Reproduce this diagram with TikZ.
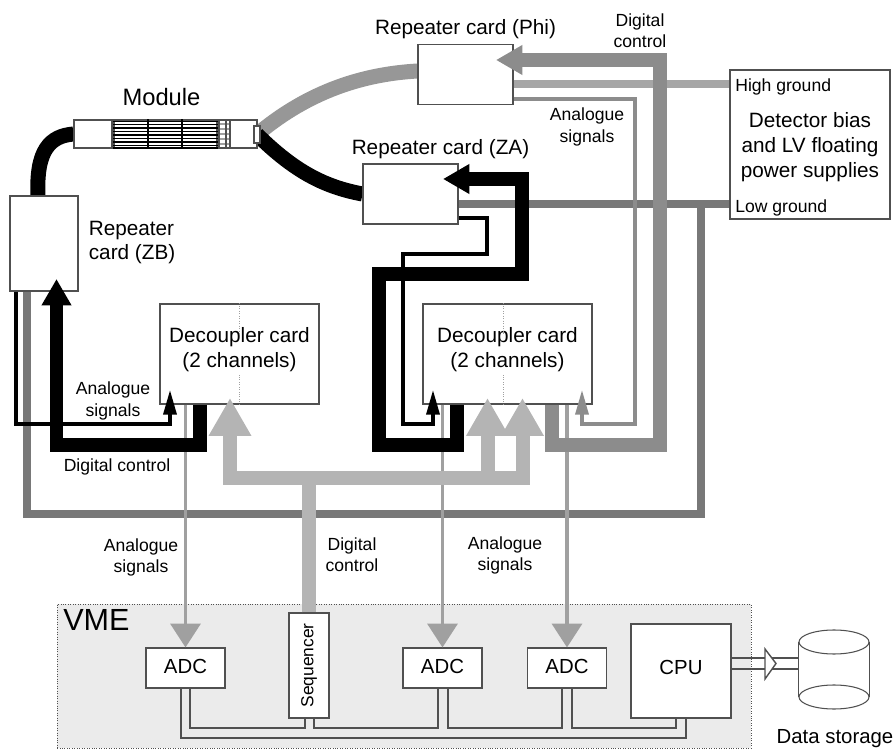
\documentclass[tikz,border=0pt]{standalone}
\usepackage{xcolor}
\usepackage{fontspec}
\usepackage{tikz}
\usetikzlibrary{shapes.geometric, arrows.meta, positioning, backgrounds}
\setmainfont{Liberation Sans}
\definecolor{ctrlgrey}{HTML}{8C8C8C}
\definecolor{fangrey}{HTML}{B4B4B4}
\definecolor{lowgrey}{HTML}{787878}
\definecolor{highgrey}{HTML}{A6A6A6}
\definecolor{siggrey}{HTML}{A0A0A0}
\definecolor{vmefill}{HTML}{EBEBEB}
\definecolor{edge}{HTML}{505050}

\begin{document}
\begin{tikzpicture}[
  x=0.02cm, y=-0.02cm,
  box/.style = {rectangle, draw=edge, fill=white, line width=0.6pt, inner sep=0pt, text=black},
  lab/.style = {inner sep=0pt, align=center, font=\fontsize{11.8}{14.2}\selectfont},
  sublab/.style = {inner sep=0pt, align=center, font=\fontsize{10}{12}\selectfont},
  card/.style = {box, minimum width=1.9cm, minimum height=1.2cm},
  dec/.style = {box, minimum height=2cm},
  adc/.style = {box, minimum width=1.58cm, minimum height=0.8cm, text depth=0.06cm, font=\fontsize{11.6}{14}\selectfont},
  thickwire/.style = {line width=0.27cm, line join=miter, -{Triangle[length=15pt,width=16pt]}},
  fanwire/.style = {line width=0.28cm, draw=fangrey, line join=miter, -{Triangle[length=21.5pt,width=22.7pt]}},
  thinwire/.style = {line width=1.9pt, line join=miter, -{Triangle[length=14pt,width=7.4pt]}},
  sigwire/.style = {line width=2.2pt, draw=siggrey, -{Triangle[length=13.6pt,width=17pt]}},
  gnd/.style = {line width=0.15cm, line join=miter},
  bus/.style = {line width=0.8pt, draw=edge, line join=miter},
  cable/.style = {line width=0.3cm},
]
  \useasboundingbox (0,0) rectangle (896,749);

  % VME crate
  \node[rectangle, draw=edge, densely dotted, fill=vmefill, minimum width=13.88cm, minimum height=2.88cm] (vme) at (404,676) {};
  \node[anchor=north west, inner sep=0pt, font=\fontsize{17.4}{20}\selectfont] (vmelab) at (63,609) {VME};
  \node[adc] (adcA) at (185.5,668) {ADC};
  \node[adc] (adcB) at (442.5,668) {ADC};
  \node[adc] (adcC) at (567,668) {ADC};
  \node[box, minimum width=0.8cm, minimum height=2.1cm] (seq) at (309,665.5) {};
  \node[rotate=90, inner sep=0pt, font=\fontsize{9.9}{12}\selectfont] (seqlab) at (seq) {Sequencer};
  \node[box, minimum width=2cm, minimum height=1.88cm, text depth=0.14cm, font=\fontsize{11.6}{14}\selectfont] (cpu) at (681,671) {CPU};

  % module and repeater cards
  \node[box, minimum width=0.76cm, minimum height=0.56cm] (modL) at (93,134) {};
  \node[box, minimum width=2.06cm, minimum height=0.56cm] (modC) at (165.5,134) {};
  \node[box, minimum width=0.78cm, minimum height=0.56cm] (modR) at (237.5,134) {};
  \node[box, minimum width=0.12cm, minimum height=0.34cm] (modT) at (257,134.5) {};
  \node[inner sep=0pt, font=\fontsize{13.5}{16}\selectfont, above=0.26cm of modC, xshift=-0.08cm] (modlab) {Module};
  \foreach \y in {121.5,124.5,128,131.5,135,138.5,142,145.5,148}
    \draw[line width=1pt] (modC.west |- 0,\y) -- (modC.east |- 0,\y);
  \foreach \x in {148,182}
    \draw[line width=0.7pt] (\x,0 |- modC.north) -- (\x,0 |- modC.south);
  \foreach \y in {124,129,134,139,144}
    \draw[line width=0.6pt, draw=siggrey] (219,\y) -- (230,\y);
  \foreach \x in {219,226,230}
    \draw[line width=0.7pt, draw=edge] (\x,0 |- modR.north) -- (\x,0 |- modR.south);

  \node[card] (phi) at (465.5,74.5) {};
  \node[card] (za) at (410.5,194) {};
  \node[box, minimum width=1.36cm, minimum height=1.9cm] (zb) at (44,243.5) {};
  \node[lab, above=0.09cm of phi] (philab) {Repeater card (Phi)};
  \node[lab, above=0.09cm of za, xshift=0.6cm] (zalab) {Repeater card (ZA)};
  \node[lab, right=0.2cm of zb, yshift=0.02cm, align=left] (zblab) {Repeater\\card (ZB)};

  \begin{scope}[on background layer]
    \draw[cable, draw=black] (modL.west) .. controls (50,136) and (36,150) .. (38,0 |- zb.north);
    \draw[cable, draw=ctrlgrey!90] ([yshift=0.07cm]phi.west) .. controls (365,74) and (310,90) .. (modT.center);
    \draw[cable, draw=black] (za.west) .. controls (325,187) and (295,172) .. (modT.center);
  \end{scope}

  % power supplies
  \node[box, minimum width=3.2cm, minimum height=2.98cm] (det) at (810,144.5) {};
  \node[lab, yshift=-0.05cm] (detlab) at (det) {Detector bias\\and LV floating\\power supplies};
  \node[sublab, anchor=west] (highlab) at (735,87) {High ground};
  \node[sublab, anchor=west] (lowlab) at (735,208) {Low ground};

  % decoupler cards
  \node[dec, minimum width=3.18cm] (decL) at (239.5,354) {};
  \node[dec, minimum width=3.38cm] (decR) at (507.5,354) {};
  \node[lab, yshift=0.09cm] (decLlab) at (decL) {Decoupler card\\(2 channels)};
  \node[lab, yshift=0.09cm] (decRlab) at (decR) {Decoupler card\\(2 channels)};
  \draw[densely dotted, draw=siggrey] (decL.north) -- ++(0,31);
  \draw[densely dotted, draw=siggrey] (decL.south) -- ++(0,-30);
  \draw[densely dotted, draw=siggrey] (503,0 |- decR.north) -- ++(0,31);
  \draw[densely dotted, draw=siggrey] (503,0 |- decR.south) -- ++(0,-30);

  % ports
  \coordinate (phiIn) at (496,60);
  \coordinate (zaIn) at (443,179);
  \coordinate (zbIn) at (56.5,279);
  \coordinate (lowT) at (701,204);
  \coordinate (fanC) at (309,478);
  \coordinate (fanA) at (230,398);
  \coordinate (fanB) at (487.5,398);
  \coordinate (fanD) at (522.5,398);
  \coordinate (sigL) at (170,390);
  \coordinate (sigM) at (433,390);
  \coordinate (sigR) at (582,390);

  % grounds
  \draw[gnd, draw=highgrey] (phi.east |- 0,84) -- (det.west |- 0,84);
  \draw[gnd, draw=lowgrey] (za.east |- lowT) -- (det.west |- lowT);
  \draw[gnd, draw=lowgrey] (lowT) |- (27,514) -- (27,0 |- zb.south);

  % analogue signals to the ADCs
  \draw[sigwire] (adcA.north |- decL.south) -- (adcA.north);
  \draw[sigwire] (adcB.north |- decR.south) -- (adcB.north);
  \draw[sigwire] (adcC.north |- decR.south) -- (adcC.north);

  % sequencer fan out
  \draw[line width=0.28cm, draw=fangrey] (seq.north) -- (fanC);
  \foreach \t in {fanA,fanB,fanD}
    \draw[fanwire] (fanC) -| (\t);

  % analogue signals from the repeaters
  \draw[thinwire, draw=black] (za.east |- 0,218) -| (487,254) -| (403,424) -| (sigM);
  \draw[thinwire, draw=black] (16,0 |- zb.south) |- (170,424) -- (sigL);
  \draw[thinwire, draw=ctrlgrey] (phi.east |- 0,99) -| (635,424) -| (sigR);

  % digital control
  \draw[thickwire, draw=ctrlgrey] (552,0 |- decR.south) |- (660,445) -- (660,60) -- (phiIn);
  \draw[thickwire, draw=black] (457,0 |- decR.south) |- (379,445) -- (379,274) -| (522,179) -- (zaIn);
  \draw[thickwire, draw=black] (200,0 |- decL.south) |- (56.5,445) -- (zbIn);

  % VME bus
  \draw[bus] (181,0 |- adcA.south) |- (686,738) -- (686,0 |- cpu.south);
  \draw[bus] (190,0 |- adcA.south) |- (305,728) -- (305,0 |- seq.south);
  \draw[bus] (314,0 |- seq.south) |- (438,728) -- (438,0 |- adcB.south);
  \draw[bus] (448,0 |- adcB.south) |- (562,728) -- (562,0 |- adcC.south);
  \draw[bus] (572,0 |- adcC.south) |- (676,728) -- (676,0 |- cpu.south);

  % storage
  \node[minimum width=1.4cm, minimum height=1.58cm, inner sep=0pt] (store) at (834,669.5) {};
  \coordinate (storeT) at (834,642);
  \coordinate (storeB) at (834,697);
  \draw[draw=edge, line width=0.6pt] (store.west |- storeT) -- (store.west |- storeB);
  \draw[draw=edge, line width=0.6pt] (store.east |- storeT) -- (store.east |- storeB);
  \draw[draw=edge, line width=0.6pt] (storeT) ellipse[x radius=0.7cm, y radius=0.24cm];
  \draw[draw=edge, line width=0.6pt] (storeB) ellipse[x radius=0.7cm, y radius=0.24cm];
  \node[inner sep=0pt, font=\fontsize{11.6}{14}\selectfont] (storelab) at (835,739) {Data storage};
  \foreach \y in {658,669}
    \draw[bus] (cpu.east |- 0,\y) -- (store.west |- 0,\y);
  \draw[bus, fill=white] (765,649) -- (776,663.5) -- (765,679) -- cycle;

  % labels
  \node[sublab] (dclabA) at (640,31) {Digital\\control};
  \node[sublab] (anlabA) at (587,127) {Analogue\\signals};
  \node[sublab] (anlabB) at (113,401) {Analogue\\signals};
  \node[sublab] (dclabB) at (117,467) {Digital control};
  \node[sublab] (anlabC) at (141,557) {Analogue\\signals};
  \node[sublab] (dclabC) at (352,555) {Digital\\control};
  \node[sublab] (anlabD) at (505,555) {Analogue\\signals};
\end{tikzpicture}
\end{document}
